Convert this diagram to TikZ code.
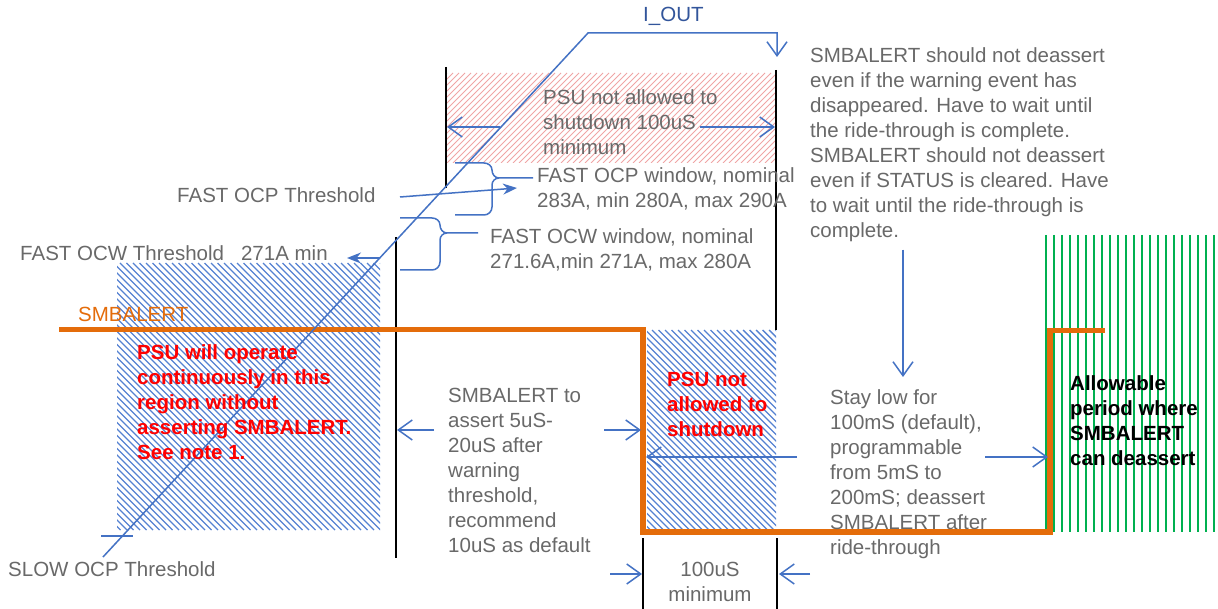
\documentclass[tikz,border=0pt]{standalone}
\usepackage{fontspec}
\setmainfont{Liberation Sans}
\usetikzlibrary{arrows.meta}
\definecolor{ablue}{RGB}{68,114,196}
\definecolor{tblue}{RGB}{50,85,155}
\definecolor{tgray}{RGB}{105,105,105}
\definecolor{aorange}{RGB}{228,108,10}
\definecolor{agreen}{RGB}{0,176,80}
\definecolor{hpink}{RGB}{240,165,165}
\definecolor{hblue}{RGB}{85,130,210}
\begin{document}
\begin{tikzpicture}[x=1pt,y=-1pt,
 txt/.style={anchor=north west,inner sep=0pt,align=left,font=\fontsize{20.5}{25}\selectfont,text=tgray},
 redtxt/.style={txt,text=red,font=\fontsize{20.5}{25}\selectfont\bfseries},
 bl/.style={draw=ablue,line width=1.5pt},
 arr/.style={bl,-{Straight Barb[length=14pt,width=20pt]}},
 sarr/.style={bl,-{Stealth[length=14pt,width=11pt]}},
 vline/.style={draw=black,line width=1.8pt},
 sig/.style={draw=aorange,line width=5.5pt,line join=miter},
 hatchred/.style={draw=hpink,line width=0.9pt},
 hatchblue/.style={draw=hblue,line width=1.4pt},
 greenline/.style={draw=agreen,line width=2.3pt},
]
\useasboundingbox (0,0) rectangle (1218,609);
\fill[white] (0,0) rectangle (1218,609);

% hatched regions
\begin{scope}
\clip (447,73) rectangle (775,163);
\foreach \c in {520,526,...,944} \draw[hatchred] ({\c-73},73) -- ({\c-163},163);
\end{scope}
\begin{scope}
\clip (117,263) rectangle (380,530);
\foreach \c in {-416,-409.5,...,120} \draw[hatchblue] ({\c+263},263) -- ({\c+530},530);
\end{scope}
\begin{scope}
\clip (647,330) rectangle (776,530);
\foreach \c in {-120,-113.5,...,450} \draw[hatchblue] ({\c+330},330) -- ({\c+530},530);
\end{scope}
\foreach \x in {1046,1054,...,1214} \draw[greenline] (\x,235) -- (\x,532);

% black markers
\draw[vline] (446,67) -- (446,188);
\draw[vline] (776,70) -- (776,330);
\draw[vline] (396,237) -- (396,558);
\draw[vline] (643,538) -- (643,609);
\draw[vline] (777,538) -- (777,609);

% SMBALERT signal
\draw[sig] (59,329.5) -- (643,329.5) -- (643,532) -- (1050,532) -- (1050,330.5) -- (1105,330.5);

% I_OUT curve
\coordinate (i0) at (103,557);
\coordinate (i1) at (588,33);
\coordinate (i2) at (777,33);
\coordinate (i3) at (777,57);
\draw[arr] (i0) -- (i1) -- (i2) -- (i3);
\draw[bl] (101,536) -- (133,536);

% braces
\draw[bl] (455,163) -- (484,163) to[out=0,in=90] (492,170) to[out=-90,in=180] (499,178) -- (533,178);
\draw[bl] (499,178) to[out=180,in=90] (492,185) -- (492,207) to[out=-90,in=0] (484,215) -- (455,215);
\draw[bl] (400,218) -- (432,218) to[out=0,in=90] (440,225) to[out=-90,in=180] (447,233) -- (478,233);
\draw[bl] (447,233) to[out=180,in=90] (440,240) -- (440,262) to[out=-90,in=0] (432,270) -- (400,270);

% texts
\node[txt,text=tblue] (iout) at (643,3.5) {\strut I\_OUT};
\node[txt] (psuna) at (543,86.5) {\strut PSU not allowed to\\shutdown 100uS\\minimum};
\node[txt] (ocpwin) at (537,164.5) {\strut FAST OCP window, nominal\\283A, min 280A, max 290A};
\node[txt] (ocwwin) at (490,225.5) {\strut FAST OCW window, nominal\\271.6A,min 271A, max 280A};
\node[txt] (ocpth) at (177,184.5) {\strut FAST OCP Threshold};
\node[txt] (ocwth) at (20,242.5) {\strut FAST OCW Threshold\hspace{17pt}271A min};
\node[txt,text=aorange] (smb) at (78,303.5) {\strut SMBALERT};
\node[redtxt] (psuwill) at (137,341.5) {\strut PSU will operate\\continuously in this\\region without\\asserting SMBALERT.\\See note 1.};
\node[txt] (slow) at (8,558.5) {\strut SLOW OCP Threshold};
\node[txt] (asrt) at (448,384.5) {\strut SMBALERT to\\assert 5uS-\\20uS after\\warning\\threshold,\\recommend\\10uS as default};
\node[redtxt] (psunot) at (667,368.5) {\strut PSU not\\allowed to\\shutdown};
\node[txt,anchor=north,align=center] (min100) at (710,558.5) {\strut 100uS\\minimum};
\node[txt] (stay) at (830,386.5) {\strut Stay low for\\100mS (default),\\programmable\\from 5mS to\\200mS; deassert\\SMBALERT after\\ride-through};
\node[redtxt,text=black] (allow) at (1070,372.5) {\strut Allowable\\period where\\SMBALERT\\can deassert};
\node[txt] (should) at (810,44.5) {\strut SMBALERT should not deassert\\even if the warning event has\\disappeared. Have to wait until\\the ride-through is complete.\\SMBALERT should not deassert\\even if STATUS is cleared. Have\\to wait until the ride-through is\\complete.};

% arrows
\coordinate (a1) at (500,127); \coordinate (a1e) at (447,127);
\coordinate (a2) at (700,127); \coordinate (a2e) at (775,127);
\draw[arr] (a1) -- (a1e);
\draw[arr] (a2) -- (a2e);
\draw[sarr] (400,197) -- (517,188);
\draw[sarr] (380,258) -- (347,258);
\draw[arr] (434,430) -- (397,430);
\draw[arr] (604,430) -- (641,430);
\draw[arr] (797,457) -- (646,457);
\draw[arr] (985,457) -- (1048,457);
\draw[arr] (610,574) -- (642,574);
\draw[arr] (810,574) -- (779,574);
\draw[arr] (should.south -| 903,0) ++(0,8) -- (903,377);
\end{tikzpicture}
\end{document}
